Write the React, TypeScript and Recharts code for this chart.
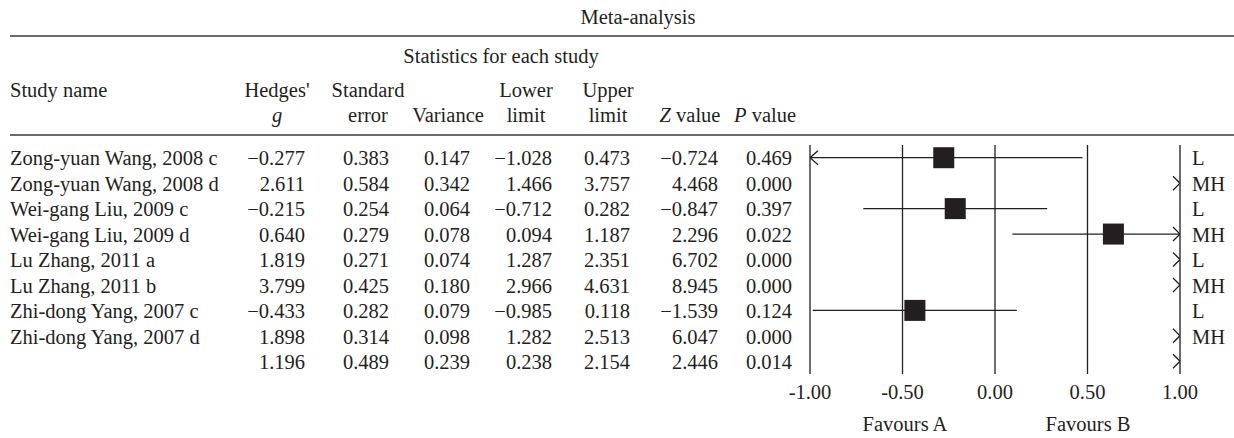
import React from "react";
import { ComposedChart, XAxis, YAxis, Scatter, ReferenceLine } from "recharts";

const studyNames = [
  "Zong-yuan Wang, 2008 c",
  "Zong-yuan Wang, 2008 d",
  "Wei-gang Liu, 2009 c",
  "Wei-gang Liu, 2009 d",
  "Lu Zhang, 2011 a",
  "Lu Zhang, 2011 b",
  "Zhi-dong Yang, 2007 c",
  "Zhi-dong Yang, 2007 d",
  "",
];
const hedgesG = [-0.277, 2.611, -0.215, 0.64, 1.819, 3.799, -0.433, 1.898, 1.196];
const stdError = [0.383, 0.584, 0.254, 0.279, 0.271, 0.425, 0.282, 0.314, 0.489];
const variance = [0.147, 0.342, 0.064, 0.078, 0.074, 0.18, 0.079, 0.098, 0.239];
const lowerLimit = [-1.028, 1.466, -0.712, 0.094, 1.287, 2.966, -0.985, 1.282, 0.238];
const upperLimit = [0.473, 3.757, 0.282, 1.187, 2.351, 4.631, 0.118, 2.513, 2.154];
const zValue = [-0.724, 4.468, -0.847, 2.296, 6.702, 8.945, -1.539, 6.047, 2.446];
const pValue = [0.469, 0.0, 0.397, 0.022, 0.0, 0.0, 0.124, 0.0, 0.014];
const method = ["L", "MH", "L", "MH", "L", "MH", "L", "MH", ""];
const xTicks = [-1, -0.5, 0, 0.5, 1];

const FONT = '"Liberation Serif", "Times New Roman", serif';
const INK = "#231f20";
const FS = 20.5;
const X_MIN = xTicks[0];
const X_MAX = xTicks[xTicks.length - 1];

const fmt = (v: number) => (v < 0 ? "\u2212" : "") + Math.abs(v).toFixed(3);

// table layout: header centre and right edge of numbers
const columns = [
  { top: "Hedges'", bottom: <tspan fontStyle="italic">g</tspan>, center: 277, right: 305, values: hedgesG },
  { top: "Standard", bottom: "error", center: 368, right: 389, values: stdError },
  { top: "", bottom: "Variance", center: 448, right: 470, values: variance },
  { top: "Lower", bottom: "limit", center: 526, right: 552, values: lowerLimit },
  { top: "Upper", bottom: "limit", center: 608, right: 630, values: upperLimit },
  { top: "", bottom: <><tspan fontStyle="italic">Z</tspan> value</>, center: 690, right: 718, values: zValue },
  { top: "", bottom: <><tspan fontStyle="italic">P</tspan> value</>, center: 765, right: 792, values: pValue },
];

const rowY = (i: number) => 158 + i * 25.5;

const inRange = (v: number) => v >= X_MIN && v <= X_MAX;

const squares = hedgesG
  .map((g, i) => ({ x: g, y: i }))
  .filter((d) => inRange(d.x));

const segments = hedgesG
  .map((g, i) => ({ i, g, lo: Math.max(lowerLimit[i], X_MIN), hi: Math.min(upperLimit[i], X_MAX) }))
  .filter((d) => inRange(d.g));

const rightArrows = upperLimit
  .map((u, i) => ({ x: X_MAX, y: i, over: u > X_MAX }))
  .filter((d) => d.over);
const leftArrows = lowerLimit
  .map((l, i) => ({ x: X_MIN, y: i, over: l < X_MIN }))
  .filter((d) => d.over);

const SquareShape = (props: any) => {
  const { cx, cy } = props;
  const s = 21;
  return <rect x={cx - s / 2} y={cy - s / 2} width={s} height={s} fill={INK} />;
};

const RightArrow = (props: any) => {
  const { cx, cy } = props;
  return <path d={`M${cx - 7},${cy - 7} L${cx},${cy} L${cx - 7},${cy + 7}`} fill="none" stroke={INK} strokeWidth={1.3} />;
};

const LeftArrow = (props: any) => {
  const { cx, cy } = props;
  return <path d={`M${cx + 8},${cy - 7} L${cx},${cy} L${cx + 8},${cy + 7}`} fill="none" stroke={INK} strokeWidth={1.3} />;
};

export default function App() {
  return (
    <div style={{ position: "absolute", left: 0, top: 0, width: 1234, height: 438, background: "#fff" }}>
      <ComposedChart width={1234} height={438} margin={{ top: 145, right: 54, bottom: 34, left: 810 }}>
        <XAxis
          type="number"
          dataKey="x"
          domain={[X_MIN, X_MAX]}
          ticks={xTicks}
          interval={0}
          allowDataOverflow
          axisLine={false}
          tickLine={false}
          tickMargin={4}
          height={30}
          tick={{ fill: INK, fontSize: FS, fontFamily: FONT }}
          tickFormatter={(v: number) => v.toFixed(2)}
        />
        <YAxis type="number" dataKey="y" domain={[-0.5, 8.5]} reversed hide />
        {xTicks.map((t, k) => (
          <ReferenceLine
            key={t}
            x={t}
            stroke={k === xTicks.length - 1 ? "#6a6a6a" : INK}
            strokeWidth={k === xTicks.length - 1 ? 2 : 1.3}
          />
        ))}
        {segments.map((d) => (
          <ReferenceLine
            key={d.i}
            segment={[
              { x: d.lo, y: d.i },
              { x: d.hi, y: d.i },
            ]}
            stroke={INK}
            strokeWidth={1.3}
          />
        ))}
        <Scatter data={squares} shape={SquareShape} isAnimationActive={false} />
        <Scatter data={rightArrows} shape={RightArrow} isAnimationActive={false} />
        <Scatter data={leftArrows} shape={LeftArrow} isAnimationActive={false} />
      </ComposedChart>

      <svg
        width={1234}
        height={438}
        style={{ position: "absolute", left: 0, top: 0, pointerEvents: "none" }}
        fontFamily={FONT}
        fontSize={FS}
        fill={INK}
      >
        <text x={638} y={17} textAnchor="middle" dominantBaseline="central">
          Meta-analysis
        </text>
        <line x1={10} x2={1234} y1={36} y2={36} stroke="#3a3a3a" strokeWidth={1.6} />
        <text x={501} y={56} textAnchor="middle" dominantBaseline="central">
          Statistics for each study
        </text>
        <text x={10} y={90} dominantBaseline="central">
          Study name
        </text>
        {columns.map((c, k) => (
          <g key={k}>
            {c.top && (
              <text x={c.center} y={90} textAnchor="middle" dominantBaseline="central">
                {c.top}
              </text>
            )}
            <text x={c.center} y={115} textAnchor="middle" dominantBaseline="central">
              {c.bottom}
            </text>
            {c.values.map((v, i) => (
              <text key={i} x={c.right} y={rowY(i)} textAnchor="end" dominantBaseline="central">
                {fmt(v)}
              </text>
            ))}
          </g>
        ))}
        <line x1={10} x2={1234} y1={135} y2={135} stroke="#3a3a3a" strokeWidth={1.6} />
        {studyNames.map((n, i) => (
          <text key={i} x={10} y={rowY(i)} dominantBaseline="central">
            {n}
          </text>
        ))}
        {method.map((m, i) => (
          <text key={i} x={1192} y={rowY(i)} dominantBaseline="central">
            {m}
          </text>
        ))}
        <text x={905} y={424} textAnchor="middle" dominantBaseline="central">
          Favours A
        </text>
        <text x={1088} y={424} textAnchor="middle" dominantBaseline="central">
          Favours B
        </text>
      </svg>
    </div>
  );
}
